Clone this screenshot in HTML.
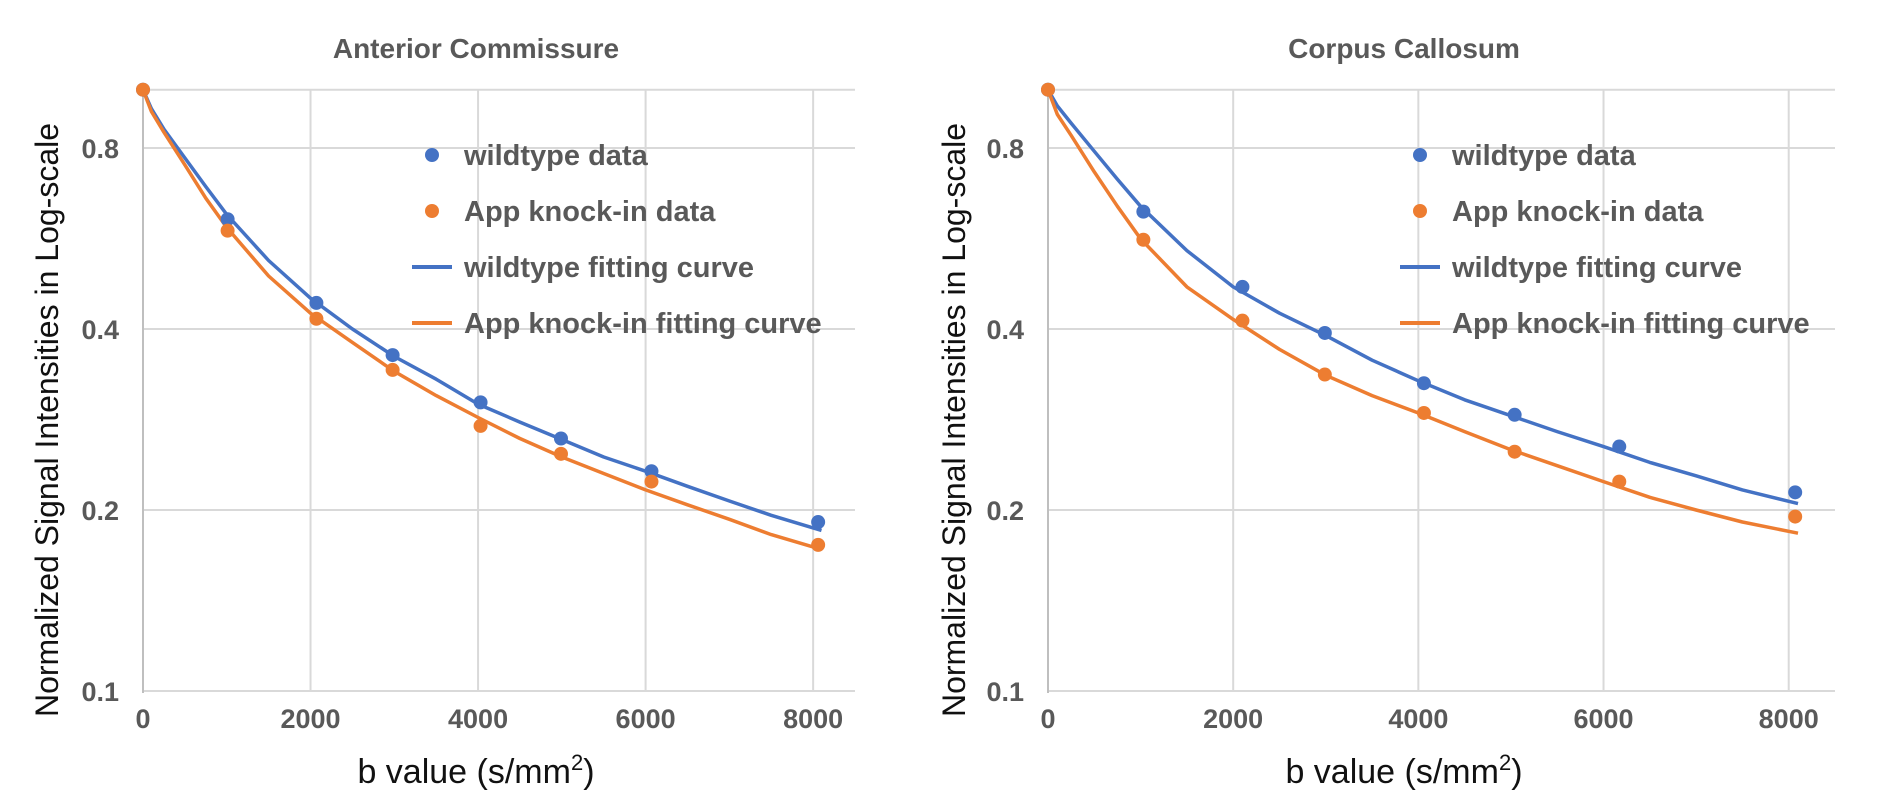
<!DOCTYPE html>
<html><head><meta charset="utf-8"><style>
html,body{margin:0;padding:0;background:#fff;}
svg{display:block;font-family:"Liberation Sans",Arial,sans-serif;}
</style></head><body>
<svg id="chart" width="1880" height="810" viewBox="0 0 1880 810" xmlns="http://www.w3.org/2000/svg"></svg>
<script>
// ---- data ----
const yTicks = [0.1, 0.2, 0.4, 0.8];
const yTickLabels = ["0.1", "0.2", "0.4", "0.8"];
const xTicks = [0, 2000, 4000, 6000, 8000];
const xTickLabels = ["0", "2000", "4000", "6000", "8000"];
const curveB = [0,100,250,500,750,1000,1500,2000,2500,3000,3500,4000,4500,5000,5500,6000,6500,7000,7500,8100];

const acPointB = [0, 1010, 2070, 2980, 4030, 4990, 6070, 8060];
const acWildData = [1.0, 0.609, 0.442, 0.362, 0.302, 0.263, 0.232, 0.191];
const acKnockData = [1.0, 0.583, 0.416, 0.342, 0.276, 0.248, 0.223, 0.175];
const acWildCurve = [1.0,0.93,0.86,0.77,0.69,0.62,0.52,0.45,0.40,0.36,0.33,0.30,0.28,0.262,0.245,0.232,0.219,0.207,0.196,0.185];
const acKnockCurve = [1.0,0.92,0.85,0.75,0.66,0.59,0.49,0.425,0.38,0.34,0.31,0.285,0.263,0.245,0.23,0.216,0.204,0.193,0.182,0.172];

const ccPointB = [0, 1030, 2100, 2990, 4060, 5040, 6170, 8070];
const ccWildData = [1.0, 0.627, 0.470, 0.394, 0.325, 0.288, 0.255, 0.214];
const ccKnockData = [1.0, 0.563, 0.413, 0.336, 0.290, 0.250, 0.223, 0.195];
const ccWildCurve = [1.0,0.94,0.88,0.79,0.71,0.64,0.54,0.47,0.425,0.39,0.355,0.328,0.305,0.287,0.27,0.255,0.24,0.228,0.216,0.205];
const ccKnockCurve = [1.0,0.91,0.84,0.73,0.64,0.565,0.47,0.415,0.37,0.335,0.31,0.29,0.27,0.252,0.237,0.223,0.21,0.2,0.191,0.183];

const legendLabels = ["wildtype data", "App knock-in data", "wildtype fitting curve", "App knock-in fitting curve"];

const svg = document.getElementById('chart');
const NS = 'http://www.w3.org/2000/svg';
function mk(tag, attrs, parent){ const e=document.createElementNS(NS,tag); for(const k in attrs) e.setAttribute(k,attrs[k]); (parent||svg).appendChild(e); return e; }

function drawChart(cfg){
  const g = mk('g', {});
  
  
  const X = b => cfg.x0 + (b/8500)*(cfg.x1-cfg.x0);
  const Y = v => 691 - 181*Math.log2(v/0.1);
  for (let i=0;i<xTicks.length;i++){
    if (xTicks[i]===0) continue;
    const l = mk('line',{x1:X(xTicks[i]),x2:X(xTicks[i]),y1:Y(1.0),y2:Y(0.1),stroke:'#d9d9d9','stroke-width':2},g);
     
  }
  const hv = yTicks.concat([1.0]);
  for (let i=0;i<hv.length;i++){
    const l = mk('line',{x1:X(0),x2:cfg.x1,y1:Y(hv[i]),y2:Y(hv[i]),stroke:'#d9d9d9','stroke-width':2},g);
     
  }
  const ax = mk('line',{x1:X(0),x2:X(0),y1:Y(1.0),y2:Y(0.1)+2,stroke:'#bfbfbf','stroke-width':2},g);
   
  for (let i=0;i<yTicks.length;i++){
    const t = mk('text',{x:X(0)-24,y:Y(yTicks[i])+10,'text-anchor':'end','font-size':27,'font-weight':'bold',fill:'#595959'},g);
    t.textContent = yTickLabels[i];
     
  }
  for (let i=0;i<xTicks.length;i++){
    const t = mk('text',{x:X(xTicks[i]),y:728,'text-anchor':'middle','font-size':27,'font-weight':'bold',fill:'#595959'},g);
    t.textContent = xTickLabels[i];
     
  }
  const tt = mk('text',{x:cfg.titleX,y:58,'text-anchor':'middle','font-size':28,'font-weight':'bold',fill:'#595959'},g);
  tt.textContent = cfg.title;
   
  const xt = mk('text',{x:cfg.titleX,y:783,'text-anchor':'middle','font-size':34,fill:'#111'},g);
  xt.innerHTML = 'b value (s/mm<tspan font-size="22" dy="-13">2</tspan><tspan dy="13">)</tspan>';
   
  const yt = mk('text',{x:0,y:0,'text-anchor':'middle','font-size':32,fill:'#111',transform:`translate(${cfg.yTitleX},420) rotate(-90)`},g);
  yt.textContent = 'Normalized Signal Intensities in Log-scale';
   
  const curves = [[cfg.wc,'#4472c4','wildtype-fitting-curve'],[cfg.kc,'#ed7d31','knock-in-fitting-curve']];
  for (const [arr,col,nm] of curves){
    const d = arr.map((v,i)=>(i?'L':'M')+X(curveB[i]).toFixed(1)+' '+Y(v).toFixed(1)).join(' ');
    const p = mk('path',{d:d,fill:'none',stroke:col,'stroke-width':3.5,'stroke-linejoin':'round'},g);
     
  }
  const pts = [[cfg.wd,'#4472c4','wildtype-data-point'],[cfg.kd,'#ed7d31','knock-in-data-point']];
  for (const [arr,col,nm] of pts){
    for (let i=0;i<arr.length;i++){
      const c = mk('circle',{cx:X(cfg.pb[i]),cy:Y(arr[i]),r:7,fill:col},g);
       
    }
  }
  const cols = ['#4472c4','#ed7d31','#4472c4','#ed7d31'];
  const ly = [155,211,267,323];
  for (let i=0;i<4;i++){
    const lg = mk('g',{},g);
     
    if (i<2) mk('circle',{cx:cfg.legX,cy:ly[i],r:7,fill:cols[i]},lg);
    else mk('line',{x1:cfg.legX-20,x2:cfg.legX+20,y1:ly[i],y2:ly[i],stroke:cols[i],'stroke-width':4},lg);
    const t = mk('text',{x:cfg.legX+32,y:ly[i]+10,'font-size':29,'font-weight':'bold',fill:'#595959'},lg);
    t.textContent = legendLabels[i];
  }
}
drawChart({name:'anterior-commissure-chart',title:'Anterior Commissure',x0:143,x1:855,titleX:476,yTitleX:58,legX:432,pb:acPointB,wd:acWildData,kd:acKnockData,wc:acWildCurve,kc:acKnockCurve});
drawChart({name:'corpus-callosum-chart',title:'Corpus Callosum',x0:1048,x1:1835,titleX:1404,yTitleX:965,legX:1420,pb:ccPointB,wd:ccWildData,kd:ccKnockData,wc:ccWildCurve,kc:ccKnockCurve});
</script>
</body></html>
